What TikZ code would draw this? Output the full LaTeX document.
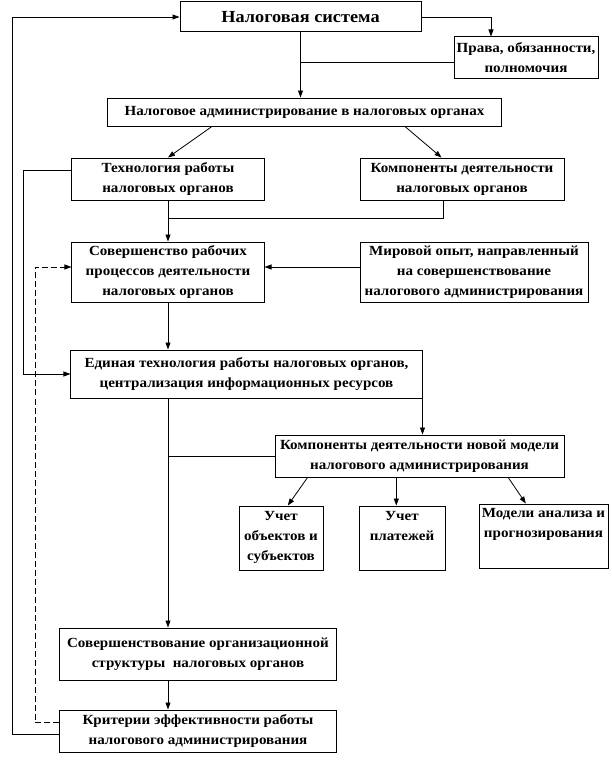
\documentclass[tikz,border=0pt]{standalone}
\usepackage{fontspec}
\setmainfont[FakeStretch=1.08]{Liberation Serif}
\usetikzlibrary{arrows.meta,calc}
\begin{document}
\begin{tikzpicture}[x=1bp,y=-1bp,
  box/.style={draw,line width=1bp,inner sep=0pt,align=center,font=\fontsize{14}{20}\selectfont\bfseries},
  txt/.style={inner sep=0pt,align=center,font=\fontsize{14}{20}\selectfont\bfseries},
  ln/.style={line width=0.8bp},
  arr/.style={line width=0.8bp,-{Triangle[length=7bp,width=5bp]}}]
\useasboundingbox (0,0) rectangle (612,783);
% boxes
\node[box,minimum width=241bp,minimum height=30bp,font=\fontsize{17}{20}\selectfont\bfseries] (sys) at (300.5,17) {Налоговая система};
\node[box,minimum width=144bp,minimum height=41bp] (prava) at (526,57.5) {Права, обязанности,\\ полномочия};
\node[box,minimum width=393bp,minimum height=28bp] (adm) at (304.5,112) {Налоговое администрирование в налоговых органах};
\node[box,minimum width=192bp,minimum height=42bp] (tech) at (168,179) {Технология работы\\ налоговых органов};
\node[box,minimum width=204bp,minimum height=42bp] (komp) at (462,179) {Компоненты деятельности\\ налоговых органов};
\node[box,minimum width=192bp,minimum height=60bp] (sov) at (168,272) {Совершенство рабочих\\ процессов деятельности\\ налоговых органов};
\node[box,minimum width=228bp,minimum height=60bp] (mir) at (474,272) {Мировой опыт, направленный\\ на совершенствование\\ налогового администрирования};
\node[box,minimum width=351bp,minimum height=48bp] (edin) at (246.5,374) {Единая технология работы налоговых органов,\\ централизация информационных ресурсов};
\node[box,minimum width=289bp,minimum height=42bp] (komn) at (419.5,456) {Компоненты деятельности новой модели\\ налогового администрирования};
\node[box,minimum width=84bp,minimum height=64bp] (uo) at (281,538) {};
\node[box,minimum width=86bp,minimum height=64bp] (up) at (402,538) {};
\node[box,minimum width=129bp,minimum height=64bp] (mod) at (543.5,536) {};
\node[txt,anchor=north] (uot) at ($(uo.north)+(0,6)$) {Учет\\ объектов и\\ субъектов};
\node[txt,anchor=north] (upt) at ($(up.north)+(0,6)$) {Учет\\ платежей};
\node[txt,anchor=north] (modt) at ($(mod.north)+(0,5)$) {Модели анализа и\\ прогнозирования};
\node[box,minimum width=276bp,minimum height=52bp] (sorg) at (198,654) {Совершенствование организационной\\ структуры\ \ налоговых органов};
\node[box,minimum width=276bp,minimum height=42bp] (krit) at (198,731) {Критерии эффективности работы\\ налогового администрирования};
% helper coordinates
\coordinate (pk) at (491,0);
\coordinate (h1) at (0,62);
\coordinate (h2) at (0,218);
\coordinate (ay) at (0,267);
\coordinate (lx) at (23,0);
\coordinate (ox) at (12,0);
\coordinate (dx) at (35,0);
% connectors
\draw[arr] (sys.east) -| (prava.north -| pk);
\draw[arr] (sys.south) -- (sys.south |- adm.north);
\draw[ln] (sys.south |- h1) -- (prava.west |- h1);
\draw[arr] ($(adm.south west)!0.265!(adm.south east)$) -- (tech.north);
\draw[arr] ($(adm.south west)!0.755!(adm.south east)$) -- ($(komp.north west)!0.4!(komp.north east)$);
\coordinate (tl) at ($(tech.north west)!0.3!(tech.south west)$);
\draw[arr] (tl) -- (tl -| lx) |- (edin.west);
\draw[arr] (tech.south) -- (sov.north);
\coordinate (kb) at ($(komp.south west)!0.41!(komp.south east)$);
\draw[ln] (kb) |- (tech.south |- h2);
\draw[arr] (mir.west |- ay) -- (sov.east |- ay);
\draw[arr] (sov.south) -- (sov.south |- edin.north);
\draw[arr] (edin.south east) -- (edin.south east |- komn.north);
\draw[arr] (sov.south |- edin.south) -- (sov.south |- sorg.north);
\draw[ln] (sov.south |- komn.west) -- (komn.west);
\draw[arr] ($(komn.south west)!0.114!(komn.south east)$) -- ($(uo.north west)!0.58!(uo.north east)$);
\coordinate (mb) at ($(komn.south west)!0.42!(komn.south east)$);
\draw[arr] (mb) -- (mb |- up.north);
\draw[arr] ($(komn.south west)!0.806!(komn.south east)$) -- ($(mod.north west)!0.364!(mod.north east)$);
\draw[arr] (sov.south |- sorg.south) -- (sov.south |- krit.north);
\coordinate (ks) at ($(krit.west)+(0,3)$);
\draw[arr] (ks) -- (ks -| ox) |- (sys.west);
\coordinate (kd) at ($(krit.west)+(0,-9)$);
\draw[arr,dashed,dash pattern=on 6bp off 3bp] (kd) -- (kd -| dx) |- (sov.west |- ay);
\end{tikzpicture}
\end{document}
